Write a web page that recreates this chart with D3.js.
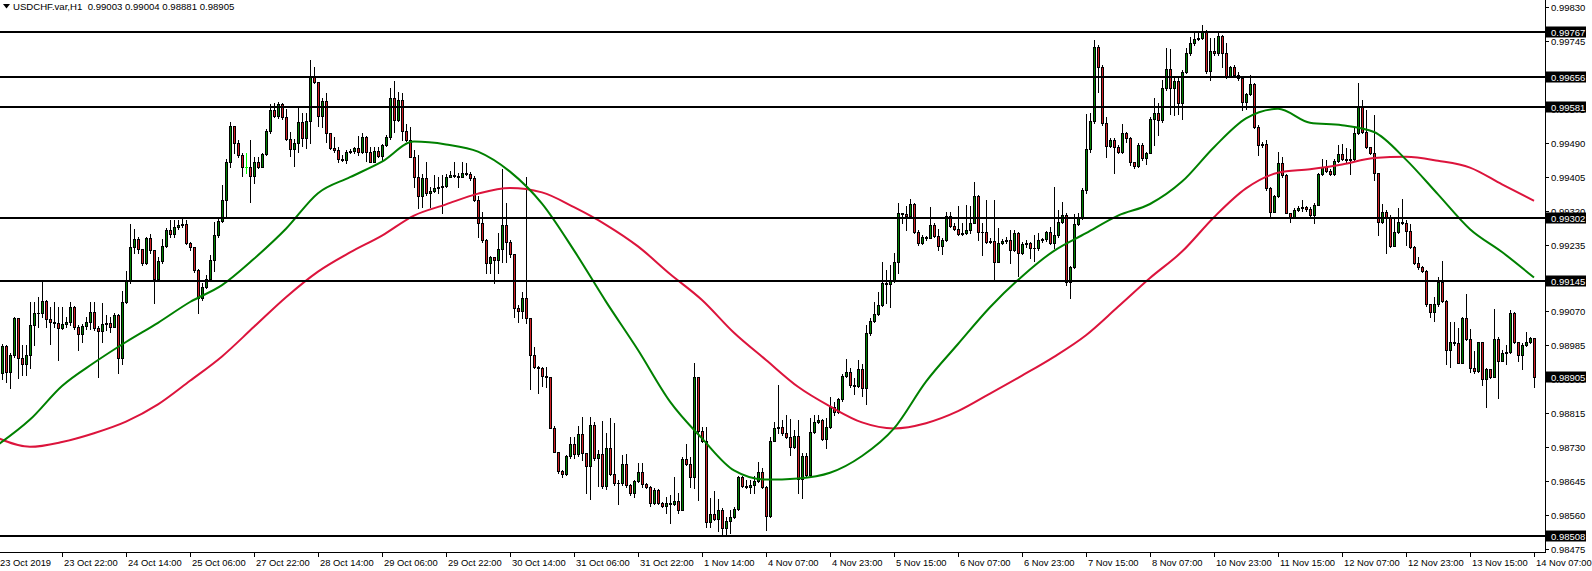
<!DOCTYPE html>
<html>
<head>
<meta charset="utf-8">
<script src="https://cdn.jsdelivr.net/npm/d3@7"></script>
<style>
  html, body { margin: 0; padding: 0; background: #fff; }
  svg { display: block; }
  text { font-family: "Liberation Sans", Arial, sans-serif; fill: #000; }
</style>
</head>
<body>
<svg id="chart" width="1592" height="571"></svg>
<script>
// USDCHF H1, 23 Oct 2019 .. 14 Nov 2019
const chartTitle = 'USDCHF.var,H1  0.99003 0.99004 0.98881 0.98905';
const firstOpen = 0.98936;

const closes = [
  0.98915,0.98983,0.98917,0.98960,0.99053,0.98954,0.98939,0.98960,0.99035,0.99065,
  0.99066,0.99096,0.99051,0.99044,0.99041,0.99029,0.99038,0.99043,0.99081,0.99031,
  0.99014,0.99033,0.99043,0.99068,0.99029,0.99021,0.99037,0.99040,0.99031,0.99060,
  0.98954,0.99093,0.99148,0.99230,0.99250,0.99226,0.99190,0.99252,0.99223,0.99151,
  0.99196,0.99233,0.99272,0.99264,0.99280,0.99285,0.99287,0.99240,0.99230,0.99173,
  0.99102,0.99131,0.99151,0.99198,0.99260,0.99296,0.99347,0.99442,0.99533,0.99490,
  0.99460,0.99431,0.99431,0.99407,0.99442,0.99431,0.99462,0.99520,0.99573,0.99559,
  0.99587,0.99555,0.99500,0.99475,0.99491,0.99543,0.99503,0.99545,0.99656,0.99642,
  0.99559,0.99595,0.99515,0.99477,0.99472,0.99450,0.99448,0.99469,0.99471,0.99477,
  0.99469,0.99505,0.99469,0.99444,0.99471,0.99459,0.99485,0.99505,0.99602,0.99548,
  0.99597,0.99521,0.99498,0.99456,0.99406,0.99359,0.99402,0.99365,0.99371,0.99377,
  0.99381,0.99383,0.99406,0.99410,0.99407,0.99406,0.99416,0.99413,0.99402,0.99348,
  0.99291,0.99248,0.99190,0.99205,0.99198,0.99225,0.99286,0.99244,0.99212,0.99077,
  0.99071,0.99103,0.99052,0.98960,0.98930,0.98929,0.98909,0.98905,0.98779,0.98719,
  0.98671,0.98663,0.98708,0.98738,0.98712,0.98763,0.98715,0.98684,0.98786,0.98704,
  0.98712,0.98633,0.98727,0.98663,0.98641,0.98640,0.98688,0.98636,0.98615,0.98646,
  0.98669,0.98638,0.98630,0.98590,0.98623,0.98591,0.98583,0.98590,0.98587,0.98596,
  0.98573,0.98701,0.98688,0.98655,0.98905,0.98771,0.98746,0.98542,0.98563,0.98551,
  0.98573,0.98527,0.98546,0.98556,0.98576,0.98655,0.98634,0.98630,0.98636,0.98646,
  0.98667,0.98630,0.98559,0.98746,0.98777,0.98780,0.98765,0.98756,0.98731,0.98758,
  0.98651,0.98708,0.98661,0.98767,0.98792,0.98798,0.98750,0.98780,0.98831,0.98819,
  0.98850,0.98908,0.98919,0.98885,0.98884,0.98925,0.98877,0.99015,0.99046,0.99062,
  0.99086,0.99141,0.99138,0.99148,0.99193,0.99315,0.99313,0.99308,0.99337,0.99269,
  0.99240,0.99255,0.99254,0.99285,0.99258,0.99233,0.99248,0.99308,0.99283,0.99276,
  0.99263,0.99266,0.99273,0.99291,0.99358,0.99269,0.99267,0.99243,0.99245,0.99194,
  0.99241,0.99246,0.99247,0.99223,0.99265,0.99216,0.99237,0.99240,0.99227,0.99228,
  0.99248,0.99250,0.99268,0.99241,0.99260,0.99294,0.99310,0.99144,0.99180,0.99288,
  0.99302,0.99373,0.99476,0.99546,0.99731,0.99681,0.99540,0.99483,0.99498,0.99481,
  0.99469,0.99515,0.99502,0.99444,0.99434,0.99486,0.99452,0.99466,0.99551,0.99565,
  0.99548,0.99627,0.99676,0.99627,0.99646,0.99591,0.99667,0.99715,0.99740,0.99751,
  0.99754,0.99767,0.99671,0.99721,0.99715,0.99758,0.99715,0.99655,0.99681,0.99661,
  0.99652,0.99594,0.99613,0.99638,0.99530,0.99485,0.99487,0.99377,0.99319,0.99358,
  0.99441,0.99411,0.99316,0.99305,0.99323,0.99329,0.99331,0.99325,0.99310,0.99336,
  0.99413,0.99431,0.99421,0.99412,0.99446,0.99463,0.99451,0.99448,0.99451,0.99516,
  0.99581,0.99519,0.99480,0.99466,0.99415,0.99294,0.99317,0.99306,0.99234,0.99269,
  0.99292,0.99290,0.99271,0.99231,0.99191,0.99181,0.99171,0.99087,0.99069,0.99088,
  0.99144,0.99096,0.98972,0.98994,0.98990,0.98941,0.99052,0.99000,0.98927,0.98921,
  0.98992,0.98900,0.98926,0.98905,0.99000,0.98946,0.98965,0.98968,0.99065,0.98994,
  0.98961,0.98986,0.98994,0.99003,0.98905
];

const highs = [
  0.98948,0.98988,0.98986,0.98965,0.99056,0.99053,0.98986,0.98986,0.99093,0.99093,
  0.99106,0.99142,0.99099,0.99081,0.99093,0.99081,0.99081,0.99056,0.99093,0.99084,
  0.99035,0.99037,0.99056,0.99093,0.99093,0.99033,0.99090,0.99060,0.99056,0.99065,
  0.99063,0.99121,0.99171,0.99288,0.99276,0.99256,0.99226,0.99256,0.99263,0.99218,
  0.99206,0.99250,0.99277,0.99298,0.99298,0.99298,0.99300,0.99298,0.99244,0.99230,
  0.99175,0.99140,0.99160,0.99210,0.99294,0.99306,0.99386,0.99450,0.99543,0.99534,
  0.99498,0.99465,0.99465,0.99498,0.99455,0.99455,0.99465,0.99525,0.99588,0.99591,
  0.99593,0.99591,0.99575,0.99519,0.99501,0.99577,0.99565,0.99565,0.99698,0.99681,
  0.99642,0.99602,0.99615,0.99516,0.99506,0.99480,0.99460,0.99473,0.99475,0.99481,
  0.99508,0.99516,0.99508,0.99480,0.99480,0.99480,0.99488,0.99511,0.99627,0.99645,
  0.99619,0.99615,0.99538,0.99530,0.99473,0.99460,0.99413,0.99443,0.99381,0.99411,
  0.99406,0.99411,0.99413,0.99421,0.99443,0.99415,0.99443,0.99440,0.99418,0.99408,
  0.99358,0.99319,0.99250,0.99208,0.99206,0.99265,0.99425,0.99340,0.99248,0.99212,
  0.99085,0.99117,0.99406,0.99042,0.98980,0.98933,0.98931,0.98931,0.98906,0.98783,
  0.98719,0.98673,0.98711,0.98756,0.98756,0.98783,0.98806,0.98715,0.98806,0.98794,
  0.98723,0.98796,0.98765,0.98804,0.98790,0.98648,0.98711,0.98712,0.98638,0.98648,
  0.98690,0.98690,0.98641,0.98633,0.98627,0.98625,0.98594,0.98606,0.98611,0.98656,
  0.98615,0.98705,0.98737,0.98706,0.98941,0.98905,0.98781,0.98780,0.98602,0.98621,
  0.98600,0.98577,0.98556,0.98573,0.98581,0.98659,0.98659,0.98648,0.98648,0.98659,
  0.98692,0.98677,0.98633,0.98756,0.98792,0.98886,0.98798,0.98811,0.98800,0.98773,
  0.98798,0.98715,0.98716,0.98803,0.98810,0.98811,0.98800,0.98802,0.98856,0.98844,
  0.98854,0.98912,0.98950,0.98927,0.98902,0.98948,0.98937,0.99036,0.99052,0.99092,
  0.99119,0.99192,0.99173,0.99186,0.99216,0.99341,0.99316,0.99333,0.99350,0.99340,
  0.99273,0.99261,0.99258,0.99330,0.99290,0.99275,0.99252,0.99319,0.99319,0.99290,
  0.99333,0.99290,0.99336,0.99333,0.99394,0.99361,0.99290,0.99348,0.99252,0.99348,
  0.99277,0.99250,0.99256,0.99273,0.99273,0.99269,0.99244,0.99248,0.99244,0.99260,
  0.99265,0.99252,0.99271,0.99281,0.99381,0.99323,0.99342,0.99315,0.99182,0.99313,
  0.99315,0.99377,0.99563,0.99566,0.99748,0.99736,0.99686,0.99555,0.99502,0.99503,
  0.99485,0.99538,0.99519,0.99506,0.99444,0.99490,0.99491,0.99469,0.99555,0.99604,
  0.99590,0.99648,0.99727,0.99725,0.99652,0.99652,0.99673,0.99727,0.99755,0.99765,
  0.99767,0.99786,0.99773,0.99752,0.99752,0.99765,0.99761,0.99740,0.99683,0.99686,
  0.99669,0.99655,0.99616,0.99661,0.99640,0.99536,0.99494,0.99498,0.99381,0.99361,
  0.99469,0.99456,0.99413,0.99316,0.99327,0.99334,0.99348,0.99333,0.99331,0.99340,
  0.99416,0.99451,0.99448,0.99425,0.99450,0.99486,0.99488,0.99477,0.99475,0.99531,
  0.99640,0.99598,0.99573,0.99481,0.99561,0.99415,0.99338,0.99323,0.99310,0.99302,
  0.99327,0.99351,0.99298,0.99288,0.99233,0.99206,0.99183,0.99173,0.99088,0.99106,
  0.99156,0.99196,0.99098,0.99044,0.99044,0.99027,0.99055,0.99113,0.99025,0.98971,
  0.98994,0.98994,0.98927,0.98926,0.99075,0.99006,0.98973,0.98986,0.99073,0.99067,
  0.98994,0.98990,0.99019,0.99006,0.99004
];

const lows = [
  0.98898,0.98900,0.98894,0.98879,0.98956,0.98902,0.98911,0.98911,0.98927,0.98986,
  0.99031,0.99056,0.99031,0.98988,0.99031,0.98948,0.99026,0.99031,0.99035,0.99026,
  0.98973,0.98994,0.99026,0.99026,0.99023,0.98906,0.98994,0.99023,0.99019,0.99031,
  0.98916,0.98938,0.99090,0.99140,0.99216,0.99215,0.99186,0.99189,0.99215,0.99090,
  0.99156,0.99190,0.99230,0.99256,0.99255,0.99276,0.99281,0.99238,0.99223,0.99169,
  0.99066,0.99098,0.99127,0.99148,0.99171,0.99256,0.99294,0.99302,0.99431,0.99466,
  0.99456,0.99407,0.99416,0.99344,0.99391,0.99429,0.99431,0.99460,0.99515,0.99555,
  0.99552,0.99551,0.99498,0.99459,0.99434,0.99469,0.99484,0.99477,0.99490,0.99640,
  0.99533,0.99531,0.99492,0.99475,0.99469,0.99444,0.99446,0.99440,0.99466,0.99465,
  0.99460,0.99466,0.99446,0.99442,0.99442,0.99456,0.99446,0.99483,0.99501,0.99519,
  0.99546,0.99498,0.99495,0.99455,0.99381,0.99327,0.99331,0.99360,0.99331,0.99369,
  0.99366,0.99316,0.99381,0.99405,0.99405,0.99381,0.99405,0.99411,0.99398,0.99346,
  0.99256,0.99244,0.99165,0.99165,0.99140,0.99165,0.99194,0.99194,0.99206,0.99056,
  0.99044,0.99052,0.99041,0.98875,0.98927,0.98866,0.98883,0.98881,0.98777,0.98717,
  0.98665,0.98656,0.98661,0.98702,0.98702,0.98707,0.98698,0.98616,0.98600,0.98698,
  0.98633,0.98627,0.98625,0.98661,0.98635,0.98587,0.98635,0.98631,0.98611,0.98606,
  0.98644,0.98631,0.98627,0.98583,0.98587,0.98588,0.98581,0.98565,0.98540,0.98586,
  0.98565,0.98573,0.98686,0.98630,0.98627,0.98598,0.98744,0.98531,0.98531,0.98548,
  0.98521,0.98513,0.98511,0.98515,0.98552,0.98573,0.98631,0.98627,0.98615,0.98615,
  0.98644,0.98627,0.98523,0.98556,0.98746,0.98765,0.98760,0.98752,0.98711,0.98727,
  0.98615,0.98602,0.98656,0.98658,0.98765,0.98790,0.98748,0.98727,0.98777,0.98811,
  0.98815,0.98846,0.98906,0.98881,0.98863,0.98881,0.98858,0.98838,0.99010,0.99044,
  0.99060,0.99083,0.99091,0.99080,0.99144,0.99166,0.99290,0.99273,0.99305,0.99266,
  0.99236,0.99238,0.99248,0.99252,0.99255,0.99223,0.99213,0.99246,0.99281,0.99273,
  0.99261,0.99261,0.99263,0.99265,0.99290,0.99248,0.99211,0.99240,0.99240,0.99148,
  0.99194,0.99238,0.99241,0.99190,0.99221,0.99159,0.99213,0.99231,0.99202,0.99196,
  0.99223,0.99244,0.99246,0.99238,0.99227,0.99256,0.99290,0.99136,0.99102,0.99178,
  0.99285,0.99300,0.99365,0.99467,0.99540,0.99619,0.99535,0.99455,0.99481,0.99415,
  0.99465,0.99466,0.99494,0.99436,0.99427,0.99431,0.99448,0.99438,0.99465,0.99486,
  0.99511,0.99544,0.99623,0.99563,0.99561,0.99563,0.99550,0.99665,0.99710,0.99736,
  0.99748,0.99750,0.99666,0.99648,0.99711,0.99711,0.99681,0.99652,0.99655,0.99656,
  0.99648,0.99573,0.99575,0.99610,0.99527,0.99460,0.99481,0.99373,0.99306,0.99317,
  0.99356,0.99406,0.99315,0.99294,0.99302,0.99321,0.99321,0.99321,0.99306,0.99290,
  0.99336,0.99410,0.99419,0.99410,0.99410,0.99444,0.99448,0.99440,0.99412,0.99448,
  0.99513,0.99516,0.99477,0.99463,0.99398,0.99261,0.99291,0.99215,0.99231,0.99233,
  0.99266,0.99288,0.99236,0.99227,0.99188,0.99175,0.99169,0.99083,0.99056,0.99046,
  0.99084,0.99094,0.98937,0.98930,0.98985,0.98940,0.98940,0.98998,0.98919,0.98916,
  0.98919,0.98886,0.98831,0.98902,0.98905,0.98852,0.98946,0.98938,0.98965,0.98990,
  0.98946,0.98925,0.98983,0.98990,0.98881
];

// moving averages, read every 8th bar
const maStep = 8;
const fastMA = [
  0.98736,0.98799,0.98883,0.98941,0.98993,0.99041,0.99093,0.99135,0.99201,0.99276,
  0.99365,0.99405,0.99444,0.99494,0.99487,0.99469,0.99419,0.99339,0.99222,0.99094,
  0.98973,0.98844,0.98752,0.98672,0.98649,0.98652,0.98666,0.98708,0.98777,0.98894,
  0.98988,0.99080,0.99157,0.99221,0.99265,0.99309,0.99338,0.99394,0.99480,0.99552,
  0.99576,0.99541,0.99535,0.99518,0.99449,0.99362,0.99275,0.99218,0.99154
];
const slowMA = [
  0.98753,0.98731,0.98743,0.98765,0.98794,0.98837,0.98896,0.98957,0.99031,0.99105,
  0.99169,0.99217,0.99259,0.99309,0.99337,0.99364,0.99378,0.99367,0.99330,0.99286,
  0.99232,0.99163,0.99098,0.99016,0.98948,0.98881,0.98832,0.98792,0.98777,0.98790,
  0.98820,0.98864,0.98909,0.98956,0.99010,0.99081,0.99153,0.99219,0.99305,0.99377,
  0.99416,0.99425,0.99437,0.99453,0.99456,0.99446,0.99429,0.99387,0.99346
];

const levels = [0.99767, 0.99656, 0.99581, 0.99302, 0.99145, 0.98508];
const bidPrice = 0.98905;

const priceTicks = ['0.99830','0.99745','0.99660','0.99575','0.99490','0.99405','0.99320',
  '0.99235','0.99150','0.99070','0.98985','0.98900','0.98815','0.98730','0.98645',
  '0.98560','0.98475'];

const timeStep = 16;
const timeLabels = ['23 Oct 2019','23 Oct 22:00','24 Oct 14:00','25 Oct 06:00','27 Oct 22:00',
  '28 Oct 14:00','29 Oct 06:00','29 Oct 22:00','30 Oct 14:00','31 Oct 06:00','31 Oct 22:00',
  '1 Nov 14:00','4 Nov 07:00','4 Nov 23:00','5 Nov 15:00','6 Nov 07:00','6 Nov 23:00',
  '7 Nov 15:00','8 Nov 07:00','10 Nov 23:00','11 Nov 15:00','12 Nov 07:00','12 Nov 23:00',
  '13 Nov 15:00','14 Nov 07:00'];

const plotRight = 1545;
const plotBottom = 552;

var svg = d3.select('#chart');

var x = d3.scaleLinear().domain([0, closes.length - 1]).range([-2, 1534]);
var y = d3.scaleLinear().domain([0.98468, 0.99848]).range([plotBottom, 0]);

var bars = closes.map(function(c, i) {
  return { i: i, o: i ? closes[i - 1] : firstOpen, h: highs[i], l: lows[i], c: c };
});

svg.append('defs').append('clipPath').attr('id', 'plot-clip')
  .append('rect').attr('x', 0).attr('y', 0).attr('width', plotRight).attr('height', plotBottom);

var plot = svg.append('g').attr('clip-path', 'url(#plot-clip)');

// candles
var candles = plot.append('g').attr('shape-rendering', 'crispEdges')
  .selectAll('g').data(bars).enter().append('g');

candles.append('line')
  .attr('x1', function(d) { return Math.round(x(d.i)) + 0.5; })
  .attr('x2', function(d) { return Math.round(x(d.i)) + 0.5; })
  .attr('y1', function(d) { return Math.round(y(Math.max(d.h, d.o, d.c))); })
  .attr('y2', function(d) { return Math.round(y(Math.min(d.l, d.o, d.c))) + 1; })
  .attr('stroke', function(d) { return d.o === d.c ? '#00ff00' : '#000'; })
  .attr('stroke-width', 1);

candles.each(function(d) {
  var g = d3.select(this);
  var px = Math.round(x(d.i));
  var top = Math.round(y(Math.max(d.o, d.c)));
  var bot = Math.round(y(Math.min(d.o, d.c)));
  if (bot - top < 1) {
    g.append('line')
      .attr('x1', px - 1).attr('x2', px + 2)
      .attr('y1', top + 0.5).attr('y2', top + 0.5)
      .attr('stroke', d.o === d.c ? '#00ff00' : '#000');
  } else {
    g.append('rect')
      .attr('x', px - 0.5).attr('y', top + 0.5)
      .attr('width', 2).attr('height', bot - top)
      .attr('fill', d.c > d.o ? '#008000' : '#d01f25')
      .attr('stroke', '#000').attr('stroke-width', 1);
  }
});

// moving averages
var maLine = d3.line()
  .x(function(d, k) { return x(k * maStep); })
  .y(function(d) { return y(d); })
  .curve(d3.curveMonotoneX);

plot.append('path').datum(slowMA)
  .attr('d', maLine).attr('fill', 'none')
  .attr('stroke', '#dc143c').attr('stroke-width', 2);
plot.append('path').datum(fastMA)
  .attr('d', maLine).attr('fill', 'none')
  .attr('stroke', '#008000').attr('stroke-width', 2);

// horizontal levels
plot.append('g').attr('shape-rendering', 'crispEdges')
  .selectAll('line').data(levels).enter().append('line')
  .attr('x1', 0).attr('x2', plotRight)
  .attr('y1', function(d) { return Math.round(y(d)); })
  .attr('y2', function(d) { return Math.round(y(d)); })
  .attr('stroke', '#000').attr('stroke-width', 2);

// frame
var frame = svg.append('g').attr('shape-rendering', 'crispEdges');
frame.append('line').attr('x1', plotRight + 0.5).attr('x2', plotRight + 0.5)
  .attr('y1', 0).attr('y2', plotBottom + 1).attr('stroke', '#000');
frame.append('line').attr('x1', 0).attr('x2', plotRight + 1)
  .attr('y1', plotBottom + 0.5).attr('y2', plotBottom + 0.5).attr('stroke', '#000');

// price axis
var priceAxis = svg.append('g');
priceAxis.selectAll('line').data(priceTicks).enter().append('line')
  .attr('shape-rendering', 'crispEdges')
  .attr('x1', plotRight).attr('x2', plotRight + 4)
  .attr('y1', function(d) { return Math.round(y(+d)) + 0.5; })
  .attr('y2', function(d) { return Math.round(y(+d)) + 0.5; })
  .attr('stroke', '#000');
priceAxis.selectAll('text').data(priceTicks).enter().append('text')
  .attr('x', plotRight + 6)
  .attr('y', function(d) { return y(+d) + 3.4; })
  .style('font-size', '9.5px')
  .text(function(d) { return d; });

var tags = svg.append('g').selectAll('g')
  .data(levels.concat([bidPrice])).enter().append('g')
  .attr('transform', function(d) { return 'translate(0,' + Math.round(y(d)) + ')'; });
tags.append('rect')
  .attr('x', plotRight + 1).attr('y', -5.5).attr('width', 40).attr('height', 11)
  .attr('fill', '#000');
tags.append('text')
  .attr('x', plotRight + 6).attr('y', 3.5)
  .style('font-size', '9.5px').style('fill', '#fff')
  .text(function(d) { return d.toFixed(5); });

// time axis
var timeAxis = svg.append('g');
timeAxis.selectAll('line').data(timeLabels).enter().append('line')
  .attr('shape-rendering', 'crispEdges')
  .attr('x1', function(d, k) { return Math.round(x(k * timeStep)) + 0.5; })
  .attr('x2', function(d, k) { return Math.round(x(k * timeStep)) + 0.5; })
  .attr('y1', plotBottom).attr('y2', plotBottom + 5)
  .attr('stroke', '#000');
timeAxis.selectAll('text').data(timeLabels).enter().append('text')
  .attr('x', function(d, k) { return Math.max(0, Math.round(x(k * timeStep)) + 2); })
  .attr('y', plotBottom + 14)
  .style('font-size', '9.4px')
  .text(function(d) { return d; });

// title
svg.append('path').attr('d', 'M3,4 L10,4 L6.5,8.5 Z').attr('fill', '#000');
svg.append('text')
  .attr('x', 13).attr('y', 10)
  .style('font-size', '9.6px').style('white-space', 'pre')
  .text(chartTitle);
</script>
</body>
</html>
